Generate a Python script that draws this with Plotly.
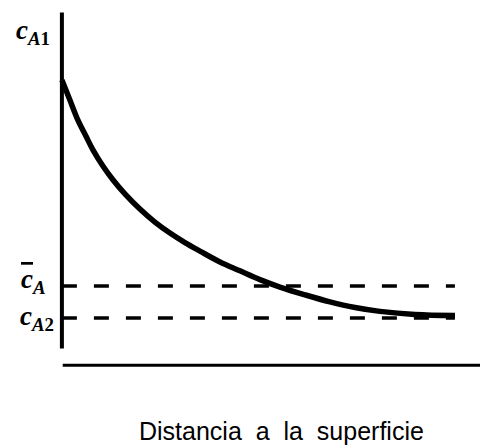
import plotly.graph_objects as go

# Concentration profile vs. distance from the surface (arbitrary units)
distance = [0.000, 0.191, 0.383, 0.574, 0.742, 0.981, 1.220, 1.507, 1.866,
            2.225, 2.584, 2.943, 3.301, 3.780, 4.258, 4.737, 5.215, 5.813,
            6.411, 7.010, 7.608, 8.445, 9.402]
concentration = [8.09, 7.52, 6.95, 6.50, 6.11, 5.65, 5.26, 4.86, 4.43,
                 4.06, 3.75, 3.48, 3.24, 2.93, 2.68, 2.43, 2.22, 2.00,
                 1.80, 1.64, 1.53, 1.44, 1.41]

# Reference levels
c_mean = 2.25     # mean concentration
c_a2 = 1.34       # bulk concentration
x_end = 9.40      # extent of the reference lines

# Axis extents
y_axis_bottom = 0.48
y_axis_top = 10.0
x_axis_end = 10.0

label_c_a1 = "<b><i>c</i></b><sub><b><i>A</i>1</b></sub>"
label_c_mean = ("<span style='text-decoration:overline'><b><i>c</i></b></span>"
                "<sub><b><i>A</i></b></sub>")
label_c_a2 = "<b><i>c</i></b><sub><b><i>A</i>2</b></sub>"
x_title = "Distancia\u00a0\u00a0a\u00a0\u00a0la\u00a0\u00a0superficie"

fig = go.Figure()

for level in (c_mean, c_a2):
    fig.add_trace(go.Scatter(
        x=[0, x_end], y=[level, level], mode="lines",
        line=dict(color="black", width=3.5, dash="15px,17px"),
        hoverinfo="skip", showlegend=False))

fig.add_trace(go.Scatter(
    x=distance, y=concentration, mode="lines",
    line=dict(color="black", width=5.5, shape="spline", smoothing=1.0),
    showlegend=False))

# Hand-drawn style axes
fig.add_shape(type="line", xref="x", yref="y",
              x0=0, x1=0, y0=y_axis_bottom, y1=y_axis_top,
              line=dict(color="black", width=4))
fig.add_shape(type="line", xref="x", yref="y",
              x0=0.02, x1=x_axis_end, y0=0, y1=0,
              line=dict(color="black", width=3))

label_font = dict(family="Liberation Serif", size=27, color="black")
fig.add_annotation(x=0, y=y_axis_top - 0.55, xref="x", yref="y",
                   text=label_c_a1, showarrow=False, font=label_font,
                   xanchor="right", yanchor="middle", xshift=-10)
fig.add_annotation(x=0, y=c_mean + 0.15, xref="x", yref="y",
                   text=label_c_mean, showarrow=False, font=label_font,
                   xanchor="right", yanchor="middle", xshift=-14)
fig.add_annotation(x=0, y=c_a2, xref="x", yref="y",
                   text=label_c_a2, showarrow=False, font=label_font,
                   xanchor="right", yanchor="middle", xshift=-6)

fig.add_annotation(x=5.26, y=0, xref="x", yref="paper",
                   text=x_title, showarrow=False,
                   font=dict(family="Liberation Sans", size=25, color="black"),
                   xanchor="center", yanchor="middle", yshift=-48)

fig.update_layout(
    width=486, height=448,
    margin=dict(l=41, r=6, t=2, b=65),
    paper_bgcolor="white", plot_bgcolor="white",
    xaxis=dict(range=[-0.5, 10.0], visible=False, fixedrange=True),
    yaxis=dict(range=[-0.5, 10.3], visible=False, fixedrange=True),
)

fig.write_html("out.html")
